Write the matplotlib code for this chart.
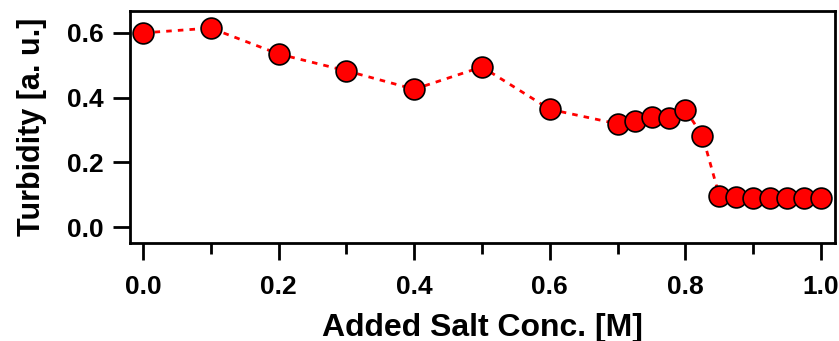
import numpy as np
import matplotlib
matplotlib.use('Agg')
import matplotlib.pyplot as plt
from matplotlib.ticker import MultipleLocator

# turbidity vs added salt concentration
salt = [0.0, 0.1, 0.2, 0.3, 0.4, 0.5, 0.6, 0.7, 0.725, 0.75, 0.775, 0.8,
        0.825, 0.85, 0.875, 0.9, 0.925, 0.95, 0.975, 1.0]
turbidity = [0.600, 0.615, 0.535, 0.483, 0.426, 0.495, 0.364, 0.319, 0.329,
             0.340, 0.338, 0.362, 0.283, 0.096, 0.092, 0.089, 0.089, 0.089,
             0.089, 0.089]

plt.rcParams['font.family'] = ['Liberation Sans', 'DejaVu Sans']
plt.rcParams['font.weight'] = 'bold'

fig = plt.figure(figsize=(8.39, 3.41), dpi=100)
ax = fig.add_axes([0.155, 0.287, 0.84, 0.681])

ax.plot(salt, turbidity, color='red', linestyle=(0, (2, 2.2)), linewidth=2,
        marker='o', markersize=15, markerfacecolor='red',
        markeredgecolor='black', markeredgewidth=1.2)

ax.set_xlim(-0.019, 1.0202)
ax.set_ylim(-0.0495, 0.668)
ax.xaxis.set_major_locator(MultipleLocator(0.2))
ax.xaxis.set_minor_locator(MultipleLocator(0.1))
ax.yaxis.set_major_locator(MultipleLocator(0.2))
ax.xaxis.set_major_formatter(plt.FormatStrFormatter('%.1f'))
ax.yaxis.set_major_formatter(plt.FormatStrFormatter('%.1f'))

ax.tick_params(which='major', direction='out', length=12, width=2,
               labelsize=19, pad=7)
ax.tick_params(axis='x', which='major', pad=11)
ax.tick_params(axis='x', which='minor', direction='out', length=8, width=2)
for sp in ax.spines.values():
    sp.set_linewidth(2)

ax.set_xlabel('Added Salt Conc. [M]', fontsize=23, fontweight='bold', labelpad=10)
ax.set_ylabel('Turbidity [a. u.]', fontsize=22, fontweight='bold', labelpad=14)

fig.savefig('out.png', dpi=100)
